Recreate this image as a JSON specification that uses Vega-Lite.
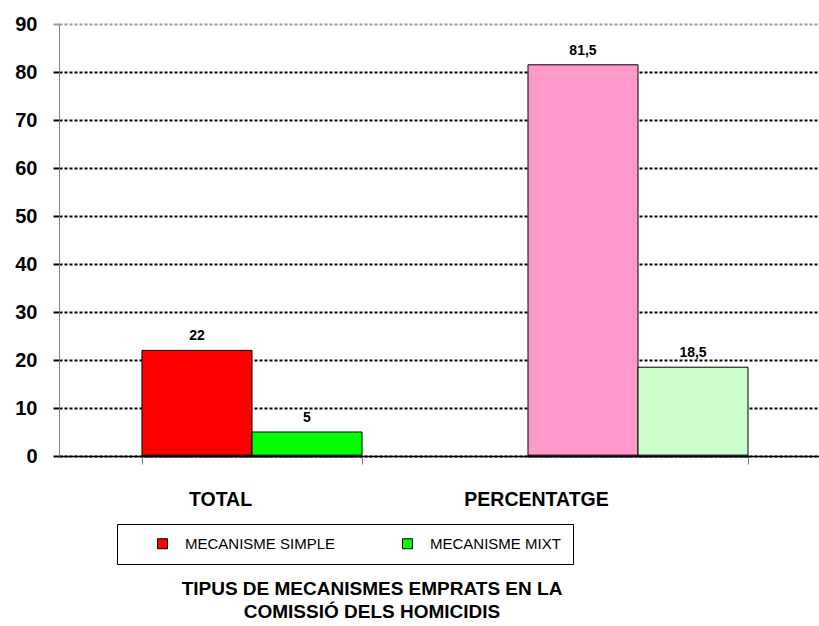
{
  "$schema": "https://vega.github.io/schema/vega-lite/v6.json",
  "width": 772,
  "height": 432,
  "autosize": "none",
  "padding": {"left": 59, "top": 24, "right": 0, "bottom": 170},
  "background": "white",
  "config": {
    "view": {"stroke": null},
    "font": "Liberation Sans",
    "locale": {"number": {"decimal": ",", "thousands": ".", "grouping": [3], "currency": ["", " €"]}}
  },
  "title": {
    "text": ["TIPUS DE MECANISMES EMPRATS EN LA", "COMISSIÓ DELS HOMICIDIS"],
    "orient": "bottom",
    "anchor": "middle",
    "frame": "group",
    "dx": -73,
    "offset": 15,
    "font": "Liberation Sans",
    "fontSize": 19,
    "fontWeight": "bold",
    "color": "black",
    "lineHeight": 23
  },
  "data": {
    "values": [
      {"grup": "TOTAL", "serie": "MECANISME SIMPLE", "valor": 22},
      {"grup": "TOTAL", "serie": "MECANISME MIXT", "valor": 5},
      {"grup": "PERCENTATGE", "serie": "MECANISME SIMPLE", "valor": 81.5},
      {"grup": "PERCENTATGE", "serie": "MECANISME MIXT", "valor": 18.5}
    ]
  },
  "encoding": {
    "x": {
      "field": "grup",
      "type": "nominal",
      "sort": ["TOTAL", "PERCENTATGE"],
      "scale": {"paddingInner": 0.43, "paddingOuter": 0.215},
      "axis": {
        "title": null,
        "domainColor": "black",
        "domainWidth": 1.5,
        "tickBand": "extent",
        "tickColor": "#808080",
        "tickSize": 8,
        "tickWidth": 1,
        "labelFont": "Liberation Sans",
        "labelFontSize": 19.5,
        "labelFontWeight": "bold",
        "labelColor": "black",
        "labelPadding": 26,
        "labelAngle": 0,
        "labelOffset": {"condition": {"test": "datum.value === 'TOTAL'", "value": -32}, "value": -102},
        "grid": false
      }
    },
    "xOffset": {
      "field": "serie",
      "type": "nominal",
      "sort": ["MECANISME SIMPLE", "MECANISME MIXT"],
      "scale": {"paddingInner": 0, "paddingOuter": 0}
    },
    "y": {
      "field": "valor",
      "type": "quantitative",
      "scale": {"domain": [0, 90], "nice": false},
      "axis": {
        "title": null,
        "values": [0, 10, 20, 30, 40, 50, 60, 70, 80, 90],
        "format": "d",
        "domainColor": "#808080",
        "domainWidth": 1,
        "tickColor": {"condition": {"test": "datum.value === 90", "value": "#999999"}, "value": "black"},
        "tickSize": 6,
        "tickWidth": 2,
        "labelFont": "Liberation Sans",
        "labelFontSize": 20,
        "labelFontWeight": "bold",
        "labelColor": "black",
        "labelPadding": 16,
        "grid": true,
        "gridColor": {"condition": {"test": "datum.value === 90", "value": "#999999"}, "value": "black"},
        "gridDash": [3, 2],
        "gridWidth": 2
      }
    }
  },
  "layer": [
    {
      "mark": {"type": "bar", "stroke": "black", "strokeWidth": 1},
      "encoding": {
        "color": {
          "field": "serie",
          "type": "nominal",
          "sort": ["MECANISME SIMPLE", "MECANISME MIXT"],
          "scale": {"domain": ["MECANISME SIMPLE", "MECANISME MIXT"], "range": ["#FF0000", "#00FF00"]},
          "condition": [
            {"test": "datum.grup === 'PERCENTATGE' && datum.serie === 'MECANISME SIMPLE'", "value": "#FF99CC"},
            {"test": "datum.grup === 'PERCENTATGE' && datum.serie === 'MECANISME MIXT'", "value": "#CCFFCC"}
          ],
          "legend": {
            "orient": "none",
            "legendX": 58,
            "legendY": 500,
            "direction": "horizontal",
            "title": null,
            "strokeColor": "black",
            "fillColor": "white",
            "padding": 12,
            "columns": 2,
            "gridAlign": "all",
            "columnPadding": 38,
            "symbolType": "square",
            "symbolSize": 100,
            "symbolStrokeColor": "black",
            "symbolStrokeWidth": 1,
            "symbolOffset": 26,
            "labelOffset": 15,
            "labelFont": "Liberation Sans",
            "labelFontSize": 15,
            "labelColor": "black",
            "labelLimit": 400
          }
        }
      }
    },
    {
      "mark": {"type": "tick", "orient": "horizontal", "thickness": 3, "color": "black", "width": {"band": 1}},
      "encoding": {"y": {"datum": 0}}
    },
    {
      "mark": {"type": "text", "dy": -10, "baseline": "alphabetic", "fontSize": 14, "fontWeight": "bold", "font": "Liberation Sans", "color": "black"},
      "encoding": {
        "text": {"field": "valor", "type": "quantitative", "format": ".1~f"}
      }
    }
  ]
}
